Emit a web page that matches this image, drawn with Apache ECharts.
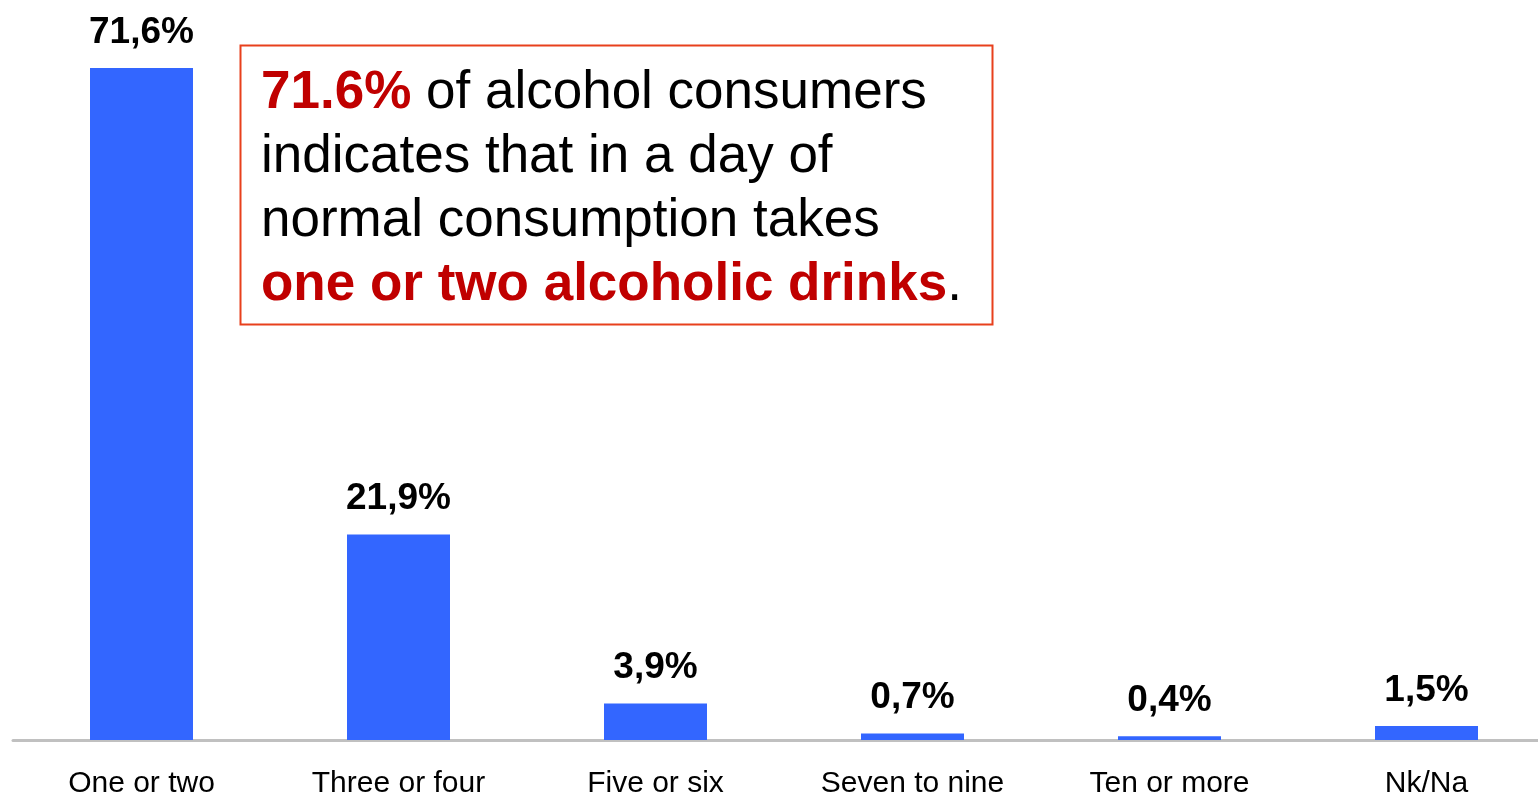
<!DOCTYPE html>
<html>
<head>
<meta charset="utf-8">
<script src="https://cdn.jsdelivr.net/npm/echarts@6/dist/echarts.min.js"></script>
<style>
  html, body { margin: 0; padding: 0; background: #fff; }
  #chart { width: 1538px; height: 797px; }
</style>
</head>
<body>
<div id="chart"></div>
<script>
// Drinks taken on a day of normal consumption (% of alcohol consumers)
const categories = ['One or two', 'Three or four', 'Five or six', 'Seven to nine', 'Ten or more', 'Nk/Na'];
const shares = [71.6, 21.9, 3.9, 0.7, 0.4, 1.5];

// Callout text
const calloutLines = [
  '{hi|71.6%} of alcohol consumers',
  'indicates that in a day of',
  'normal consumption takes',
  '{hib|one or two alcoholic drinks}.'
];

const FONT = '"Liberation Sans", Arial, Helvetica, sans-serif';

const chart = echarts.init(document.getElementById('chart'), null, { renderer: 'canvas' });

chart.setOption({
  backgroundColor: '#ffffff',
  animation: false,
  grid: { left: 13, right: -17, top: 36, bottom: 57, containLabel: false, outerBoundsMode: 'none' },
  xAxis: {
    type: 'category',
    data: categories,
    axisLine: { show: true, lineStyle: { color: '#c0c0c0', width: 3 } },
    axisTick: { show: false },
    axisLabel: { color: '#000', fontFamily: FONT, fontSize: 30, margin: 29, interval: 0 }
  },
  yAxis: {
    type: 'value',
    min: 0,
    max: 75,
    show: false,
    splitLine: { show: false }
  },
  series: [{
    type: 'bar',
    data: shares,
    barWidth: 103,
    itemStyle: { color: '#3366ff' },
    label: {
      show: true,
      position: 'top',
      distance: 17,
      color: '#000',
      fontFamily: FONT,
      fontWeight: 'bold',
      fontSize: 37,
      formatter: p => p.value.toFixed(1).replace('.', ',') + '%'
    }
  }],
  graphic: [
    {
      type: 'rect',
      z: 10,
      shape: { x: 240.5, y: 45.5, width: 752, height: 279 },
      style: { fill: '#ffffff', stroke: '#e8401c', lineWidth: 2 }
    },
    {
      type: 'text',
      z: 11,
      x: 261,
      y: 61,
      style: {
        text: calloutLines.join('\n'),
        fill: '#000',
        font: '53px ' + FONT,
        lineHeight: 64,
        verticalAlign: 'top',
        rich: {
          hi: { fill: '#c00000', fontWeight: 'bold', fontSize: 53, fontFamily: FONT, lineHeight: 64 },
          hib: { fill: '#c00000', fontWeight: 'bold', fontSize: 53, fontFamily: FONT, lineHeight: 64 }
        }
      }
    }
  ]
});
</script>
</body>
</html>
